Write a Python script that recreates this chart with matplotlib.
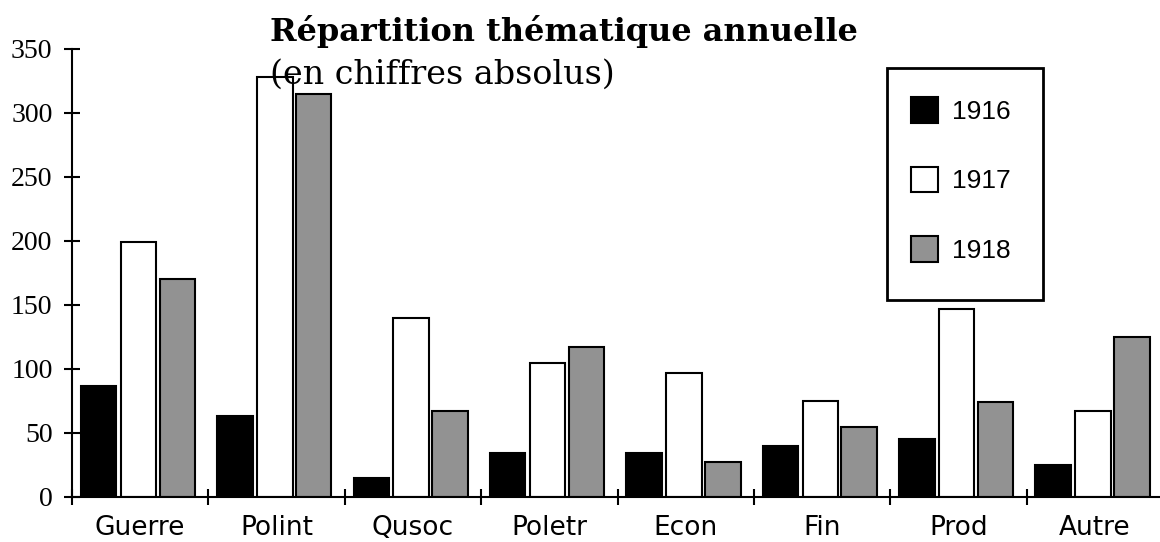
import matplotlib.pyplot as plt
from matplotlib.patches import Rectangle
import numpy as np

# Données
themes = ['Guerre', 'Polint', 'Qusoc', 'Poletr', 'Econ', 'Fin', 'Prod', 'Autre']
v1916 = [87, 63, 15, 34, 34, 40, 45, 25]
v1917 = [199, 328, 140, 105, 97, 75, 147, 67]
v1918 = [170, 315, 67, 117, 27, 55, 74, 125]
annees = ['1916', '1917', '1918']

plt.rcParams['font.family'] = ['Liberation Serif', 'DejaVu Serif']
sans = ['Liberation Sans', 'DejaVu Sans']

fig = plt.figure(figsize=(11.6, 5.42), dpi=100)
ax = fig.add_axes([72/1160, 45/542, 1091/1160, 448/542])

x = np.arange(len(themes))
w = 0.26
ax.bar(x + 0.195, v1916, w, color='black', edgecolor='black', linewidth=1.5, label=annees[0])
ax.bar(x + 0.487, v1917, w, color='white', edgecolor='black', linewidth=1.5, label=annees[1])
ax.bar(x + 0.772, v1918, w, color='#929292', edgecolor='black', linewidth=1.5, label=annees[2])

ax.set_xlim(0, 8)
ax.set_ylim(0, 350)
ax.spines['top'].set_visible(False)
ax.spines['right'].set_visible(False)
ax.spines['left'].set_linewidth(1.5)
ax.spines['bottom'].set_linewidth(1.5)

ax.set_yticks(np.arange(0, 351, 50))
ax.tick_params(axis='y', direction='inout', length=11, width=1.5, pad=8.5, labelsize=20)
ax.set_xticks(np.arange(0, 9))
ax.set_xticklabels([])
ax.tick_params(axis='x', which='major', direction='inout', length=12, width=1.5)
ax.set_xticks(x + 0.5, minor=True)
ax.set_xticklabels(themes, minor=True, family=['DejaVu Sans'], fontsize=19)
ax.tick_params(axis='x', which='minor', length=0, pad=13)

fig.text(270/1160, 1 - 32/542, 'Répartition thématique annuelle', fontsize=23,
         fontweight='bold', family=['DejaVu Serif'], va='center', ha='left')
fig.text(270/1160, 1 - 75/542, '(en chiffres absolus)', fontsize=24,
         family=['DejaVu Serif'], va='center', ha='left')

# cadre de la légende
fig.patches.append(Rectangle((887/1160, 1 - 300/542), 156/1160, 232/542,
                             transform=fig.transFigure, fill=False,
                             edgecolor='black', linewidth=2))
ax.legend(loc='upper left', bbox_to_anchor=(889/1160, 1 - 75/542),
          bbox_transform=fig.transFigure, borderaxespad=0, frameon=False,
          borderpad=0.85, labelspacing=1.62,
          handlelength=1.0, handleheight=1.1, handletextpad=0.55,
          prop={'family': sans, 'size': 19})

fig.savefig('out.png', dpi=100)
